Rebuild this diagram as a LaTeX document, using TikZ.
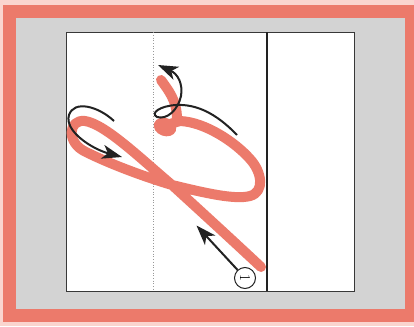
\documentclass[tikz,border=0pt]{standalone}
\usetikzlibrary{arrows.meta}
\definecolor{salmon}{HTML}{EC7A6B}
\definecolor{pinkbg}{HTML}{FAD5CF}
\definecolor{framegray}{HTML}{D3D3D3}
\definecolor{ink}{HTML}{222222}
\begin{document}
\begin{tikzpicture}[x=1pt,y=-1pt,
  stroke/.style={draw=salmon,line width=10pt,line cap=round,line join=round},
  motion/.style={draw=ink,line width=2pt,-{Stealth[length=20pt,width=14pt,inset=5.5pt]}},
  numcircle/.style={circle,draw=ink,line width=1pt,fill=white,minimum size=21pt,inner sep=0pt,font=\fontsize{15}{15}\selectfont}]
\useasboundingbox (0,0) rectangle (414,326);
\fill[pinkbg] (0,0) rectangle (414,326);
\fill[salmon] (2.5,5) rectangle (414,322);
\fill[framegray] (15.5,18) rectangle (405,308.5);
% panel
\coordinate (pTL) at (66.7,32.3);
\coordinate (pBR) at (354.3,291.3);
\draw[fill=white,draw=ink!90,line width=1.1pt] (pTL) rectangle (pBR);
\coordinate (dotT) at (153.7,32.3);
\coordinate (dotB) at (153.7,291.3);
\draw[gray!80,dotted,line width=0.7pt] (dotT) -- (dotB);
\coordinate (thkT) at (266.7,32.3);
\coordinate (thkB) at (266.7,291.3);
% salmon stroke
\fill[salmon,rotate around={-20:(165,127)}] (165,127) ellipse (11.5pt and 9pt);
\draw[stroke] (161,80) .. controls (168,90) and (177,100) .. (177,119);
\draw[stroke] (261,267) .. controls (230,238) and (195,206) .. (172,185)
  .. controls (140,158) and (105,124) .. (85,121)
  .. controls (68,119) and (66,143) .. (86,152)
  .. controls (110,164) and (145,177) .. (172,185)
  .. controls (205,193) and (235,200) .. (250,196)
  .. controls (265,192) and (262,172) .. (250,159)
  .. controls (235,142) and (205,122) .. (180,121)
  -- (170,124);
\draw[ink,line width=2pt] (thkT) -- (thkB);
% arrows
\coordinate (aS) at (114,121);
\coordinate (aE) at (122,157);
\draw[motion] (aS) .. controls (98,106) and (74,100) .. (69,115)
  .. controls (64,131) and (92,149) .. (aE);
\coordinate (cS) at (237,135);
\coordinate (cE) at (158,65);
\draw[motion] (cS) .. controls (215,112) and (195,104) .. (176,105)
  .. controls (160,106) and (150,113) .. (157,117)
  .. controls (167,120) and (178,110) .. (181,96)
  .. controls (183,84) and (178,74) .. (cE);
\node[numcircle] (n1) at (245,278) {\rotatebox{-90}{1}};
\coordinate (bE) at (196.5,225.5);
\draw[motion] (n1) -- (bE);
\end{tikzpicture}
\end{document}
